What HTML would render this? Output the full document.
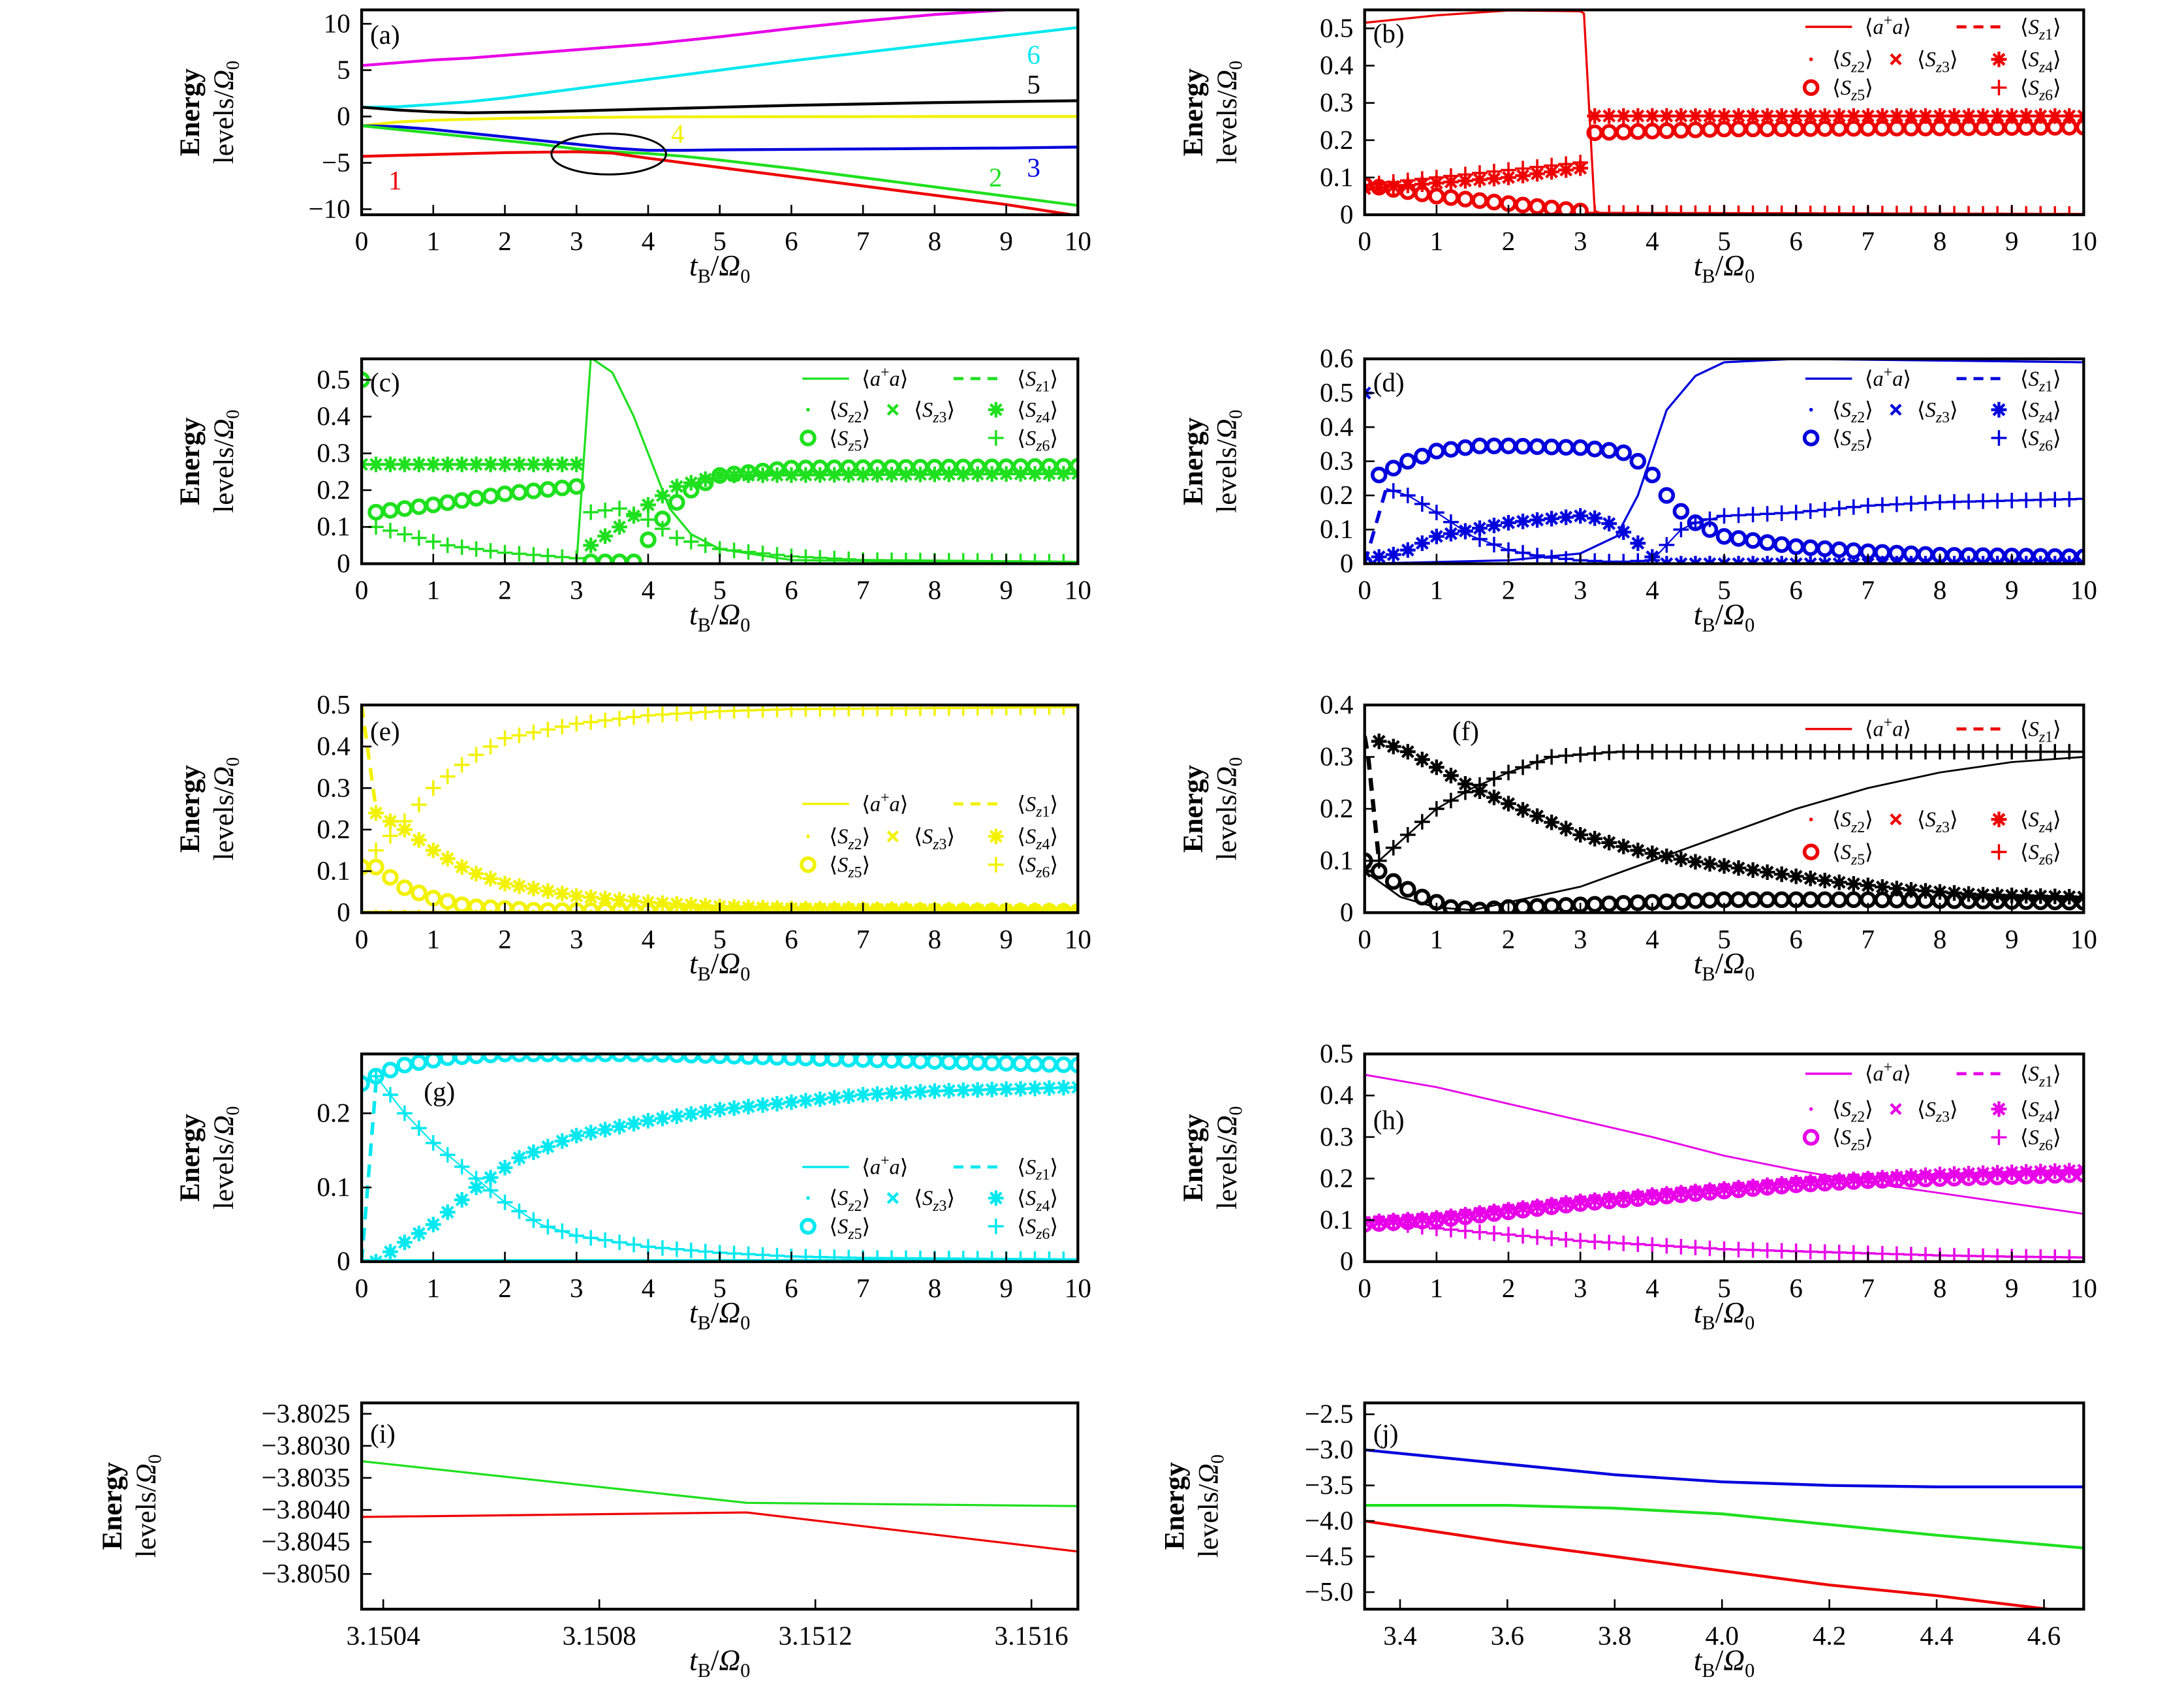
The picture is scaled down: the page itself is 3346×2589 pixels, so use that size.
<!DOCTYPE html>
<html><head><meta charset="utf-8">
<style>
html,body{margin:0;padding:0;background:#fff;}
svg{display:block;}
text{font-family:"Liberation Serif",serif;}
</style></head>
<body>
<svg id="fig" width="3346" height="2589" viewBox="0 0 1546 1196.2" preserveAspectRatio="none" xmlns="http://www.w3.org/2000/svg"></svg>
<script>
// ---------- Data ----------
const tTicks = [0,1,2,3,4,5,6,7,8,9,10];
// Panel a: energy levels
const aT = [0,0.5,1,1.5,2,2.5,3,3.5,4,4.5,5,6,7,8,9,10];
const aMag = [5.5,5.8,6.1,6.3,6.6,6.9,7.2,7.5,7.8,8.2,8.6,9.5,10.3,11.0,11.5,12.0];
const aCyan = [1,1.05,1.3,1.6,2.0,2.5,3.0,3.5,4.0,4.5,5.0,6.0,6.9,7.8,8.7,9.6];
const aBlack = [1,0.7,0.5,0.4,0.45,0.5,0.6,0.7,0.8,0.9,1.0,1.2,1.35,1.5,1.6,1.7];
const aYellow = [-1,-0.6,-0.4,-0.3,-0.2,-0.15,-0.1,-0.08,-0.05,-0.04,-0.03,-0.02,-0.01,0,0,0];
const aBlue = [-1,-1.1,-1.4,-1.8,-2.2,-2.6,-3.0,-3.4,-3.65,-3.65,-3.6,-3.55,-3.5,-3.45,-3.4,-3.3];
const aGreen = [-1,-1.4,-1.8,-2.2,-2.6,-3.0,-3.5,-3.8,-4.0,-4.3,-4.7,-5.6,-6.6,-7.6,-8.6,-9.6];
const aRed = [-4.3,-4.2,-4.1,-4.0,-3.9,-3.85,-3.8,-3.95,-4.5,-5.0,-5.5,-6.5,-7.5,-8.5,-9.5,-10.7];
// Panel b (red)
const bT = [0,1,2,3,3.05,3.2,3.3,4,6,8,10];
const bAA = [0.515,0.535,0.548,0.546,0.54,0.01,0.003,0,0,0,0];
const bS4T = [0,1,2,3,3.1,3.2,5,10];
const bS4 = [0.07,0.085,0.1,0.125,0.13,0.265,0.265,0.265];
const bS5T = [0,1,2,3,3.1,3.2,5,10];
const bS5 = [0.08,0.05,0.03,0.01,0.01,0.22,0.23,0.235];
const bS6T = [0,1,2,3,3.1,3.2,10];
const bS6 = [0.08,0.1,0.12,0.14,0.145,0.005,0.002];
// Panel c (green)
const cAAT = [0,3,3.2,3.5,3.8,4,4.3,4.6,5,6,10];
const cAA = [0,0,0.56,0.52,0.4,0.3,0.15,0.08,0.04,0.01,0];
const cS4T = [0,3,3.1,3.2,3.6,4,4.4,5,10];
const cS4 = [0.27,0.27,0.27,0.05,0.1,0.16,0.21,0.24,0.245];
const cS5T = [0,0.2,1,2,3,3.1,3.2,3.8,4,4.3,4.6,5,6,10];
const cS5 = [0.5,0.14,0.16,0.19,0.21,0.21,0.005,0.005,0.065,0.15,0.2,0.24,0.26,0.265];
const cS6T = [0,0.2,0.6,1.2,2,3,3.1,3.2,3.6,4,4.4,5,6,7,10];
const cS6 = [0,0.1,0.08,0.05,0.03,0.015,0.015,0.14,0.15,0.12,0.07,0.04,0.02,0.01,0.005];
// Panel d (blue)
const dAAT = [0,2,3,3.5,3.8,4.2,4.6,5,6,10];
const dAA = [0,0.01,0.03,0.08,0.2,0.45,0.55,0.59,0.6,0.59];
const dS1T = [0,0.3];
const dS1 = [0,0.22];
const dS6T = [0.3,0.6,1,1.5,2,2.5,3,3.5,4,4.4,4.6,5,6,7,8,9,10];
const dS6 = [0.22,0.2,0.15,0.08,0.04,0.02,0.01,0.005,0.01,0.1,0.12,0.14,0.15,0.17,0.18,0.185,0.19];
const dS4T = [0,0.1,0.3,0.6,1,1.5,2,2.5,3,3.3,3.7,4,4.2,10];
const dS4 = [0.5,0.02,0.02,0.04,0.08,0.1,0.12,0.13,0.14,0.13,0.08,0.02,0,0];
const dS5T = [0,0.1,0.3,0.6,1,1.6,2,3,3.5,3.7,4,4.3,4.6,5,6,7,8,10];
const dS5 = [0,0.25,0.27,0.3,0.33,0.345,0.345,0.34,0.33,0.32,0.26,0.17,0.12,0.08,0.05,0.035,0.025,0.02];
// Panel e (yellow)
const eS1T = [0,0.2];
const eS1 = [0.5,0.25];
const eS6T = [0.2,0.6,1,1.5,2,3,4,5,6,10];
const eS6 = [0.15,0.22,0.3,0.37,0.42,0.455,0.475,0.485,0.49,0.495];
const eS4T = [0.2,0.6,1,1.5,2,3,4,5,6,10];
const eS4 = [0.24,0.2,0.15,0.1,0.07,0.04,0.025,0.015,0.01,0.005];
const eS5T = [0,0.2,0.6,1,1.5,2.5,10];
const eS5 = [0.11,0.11,0.06,0.035,0.015,0.005,0.003];
// Panel f (black)
const fAAT = [0,0.5,1,1.5,2,3,4,5,6,7,8,9,10];
const fAA = [0.08,0.03,0.01,0.005,0.02,0.05,0.1,0.15,0.2,0.24,0.27,0.29,0.3];
const fS1T = [0,0.05,0.2];
const fS1 = [0.34,0.3,0.1];
const fS6T = [0.2,0.6,1,1.5,2,2.6,3.5,10];
const fS6 = [0.1,0.15,0.2,0.24,0.27,0.3,0.31,0.31];
const fS4T = [0,0.2,0.6,1,1.5,2,2.5,3,3.8,4.5,5.5,6.5,7.5,8.5,10];
const fS4 = [0.08,0.33,0.31,0.28,0.24,0.21,0.18,0.15,0.12,0.1,0.08,0.06,0.045,0.035,0.03];
const fS5T = [0,0.4,0.8,1.2,1.6,2,3,4,5,7,10];
const fS5 = [0.1,0.06,0.03,0.01,0.005,0.01,0.015,0.02,0.025,0.025,0.02];
// Panel g (cyan)
const gS5T = [0,0.3,0.6,1.2,2,4,6,8,10];
const gS5 = [0.24,0.255,0.265,0.275,0.28,0.28,0.275,0.27,0.265];
const gS1T = [0,0.2];
const gS1 = [0,0.24];
const gS6T = [0.2,0.6,1,1.5,2,2.5,3,4,5,6,7,10];
const gS6 = [0.25,0.2,0.16,0.12,0.08,0.05,0.035,0.02,0.012,0.007,0.005,0.003];
const gS4T = [0.2,0.5,1,1.6,2.2,3,4,5,6,7,8,10];
const gS4 = [0,0.02,0.05,0.1,0.14,0.17,0.19,0.205,0.215,0.225,0.23,0.235];
// Panel h (magenta)
const hT = [0,1,2,3,4,5,6,7,8,9,10];
const hAA = [0.45,0.42,0.38,0.34,0.3,0.255,0.22,0.19,0.165,0.14,0.115];
const hS5 = [0.09,0.1,0.12,0.14,0.155,0.17,0.185,0.195,0.2,0.205,0.21];
const hS4 = [0.095,0.105,0.125,0.145,0.16,0.175,0.19,0.2,0.21,0.215,0.22];
const hS6 = [0.1,0.08,0.065,0.05,0.04,0.03,0.025,0.02,0.015,0.012,0.01];
// Panel i
const iT = [3.15036,3.151073,3.151686];
const iGreen = [-3.80324,-3.80389,-3.80394];
const iRed = [-3.80411,-3.80404,-3.80465];
const iXTicks = [3.1504,3.1508,3.1512,3.1516];
const iXLabels = ["3.1504","3.1508","3.1512","3.1516"];
const iYTicks = [-3.8025,-3.8030,-3.8035,-3.8040,-3.8045,-3.8050];
const iYLabels = ["−3.8025","−3.8030","−3.8035","−3.8040","−3.8045","−3.8050"];
// Panel j
const jT = [3.334,3.6,3.8,4.0,4.2,4.4,4.674];
const jBlue = [-3.0,-3.2,-3.35,-3.45,-3.5,-3.52,-3.52];
const jGreen = [-3.78,-3.78,-3.82,-3.9,-4.05,-4.2,-4.38];
const jRed = [-4.0,-4.3,-4.5,-4.7,-4.9,-5.05,-5.3];
const jXTicks = [3.4,3.6,3.8,4.0,4.2,4.4,4.6];
const jXLabels = ["3.4","3.6","3.8","4.0","4.2","4.4","4.6"];
const jYTicks = [-2.5,-3.0,-3.5,-4.0,-4.5,-5.0];
const jYLabels = ["−2.5","−3.0","−3.5","−4.0","−4.5","−5.0"];

// ---------- Drawing ----------
const NS="http://www.w3.org/2000/svg";
const svg=document.getElementById('fig');
function el(tag,attrs,parent){const e=document.createElementNS(NS,tag);for(const k in attrs)e.setAttribute(k,attrs[k]);(parent||svg).appendChild(e);return e;}
function interp(xs,ys,x){if(x<xs[0]||x>xs[xs.length-1])return null;for(let i=0;i<xs.length-1;i++){if(x>=xs[i]&&x<=xs[i+1]){const f=(xs[i+1]===xs[i])?0:(x-xs[i])/(xs[i+1]-xs[i]);return ys[i]+f*(ys[i+1]-ys[i]);}}return ys[ys.length-1];}

function makePanel(name,box,xd,yd){
  const g=el('g',{});
  
  
  const p={g,box,sx:v=>box[0]+(v-xd[0])/(xd[1]-xd[0])*(box[2]-box[0]),sy:v=>box[3]-(v-yd[0])/(yd[1]-yd[0])*(box[3]-box[1])};
  const cid='clip-'+name;
  const cp=el('clipPath',{id:cid},g);el('rect',{x:box[0],y:box[1],width:box[2]-box[0],height:box[3]-box[1]},cp);
  p.plot=el('g',{'clip-path':'url(#'+cid+')'},g);
  return p;
}
function finishPanel(p,xt,xl,yt,yl,label,lx,ly,ylabX){
  const [x0,y0,x1,y1]=p.box;
  const ax=el('g',{},p.g);
  
  
  xt.forEach((v,i)=>{const x=p.sx(v);
    el('line',{x1:x,x2:x,y1:y1,y2:y1-7,stroke:'#000','stroke-width':1.2},ax);
    const t=el('text',{x:x,y:y1+25,'font-size':19,'text-anchor':'middle'},ax);t.textContent=xl[i];
    
    });
  yt.forEach((v,i)=>{const y=p.sy(v);
    el('line',{x1:x0,x2:x0+7,y1:y,y2:y,stroke:'#000','stroke-width':1.2},ax);
    const t=el('text',{x:x0-8,y:y+6,'font-size':19,'text-anchor':'end'},ax);t.textContent=yl[i];
    
    });
  el('rect',{x:x0,y:y0,width:x1-x0,height:y1-y0,fill:'none',stroke:'#000','stroke-width':2},ax);
  const pl=el('text',{x:lx,y:ly,'font-size':19},p.g);pl.textContent=label;
  
  
  const xlab=el('text',{x:(x0+x1)/2,y:y1+43,'font-size':21,'text-anchor':'middle'},p.g);
  
  
  xlab.innerHTML='<tspan font-style="italic">t</tspan><tspan font-size="14" dy="5">B</tspan><tspan dy="-5">/</tspan><tspan font-style="italic">Ω</tspan><tspan font-size="14" dy="5">0</tspan>';
  const cy=(y0+y1)/2;
  const yl1=el('text',{x:ylabX-12,y:cy,'font-size':20,'font-weight':'bold','text-anchor':'middle',transform:`rotate(-90 ${ylabX-12} ${cy})`},p.g);
  yl1.textContent='Energy';
  
  
  const yl2=el('text',{x:ylabX+12,y:cy,'font-size':20,'text-anchor':'middle',transform:`rotate(-90 ${ylabX+12} ${cy})`},p.g);
  yl2.innerHTML='levels/<tspan font-style="italic">Ω</tspan><tspan font-size="13" dy="4">0</tspan>';
  
  
}
function line(p,xs,ys,color,dash,w,name){
  const d=xs.map((x,i)=>(i?'L':'M')+p.sx(x).toFixed(2)+','+p.sy(ys[i]).toFixed(2)).join('');
  const e=el('path',{d,fill:'none',stroke:color,'stroke-width':w||1.5,'stroke-dasharray':dash?'9,6':'none','stroke-linejoin':'round'},p.plot);
  
  
}
function marker(parent,type,x,y,color){
  const s=5.5;
  if(type==='circle'){el('circle',{cx:x,cy:y,r:4.6,fill:'none',stroke:color,'stroke-width':2.6},parent);}
  else if(type==='plus'){el('path',{d:`M${x-s},${y}H${x+s}M${x},${y-s}V${y+s}`,stroke:color,'stroke-width':1.6},parent);}
  else if(type==='x'){el('path',{d:`M${x-3.5},${y-3.5}L${x+3.5},${y+3.5}M${x-3.5},${y+3.5}L${x+3.5},${y-3.5}`,stroke:color,'stroke-width':2},parent);}
  else if(type==='star'){let d='';for(let k=0;k<4;k++){const a=k*Math.PI/4;const dx=s*Math.cos(a),dy=s*Math.sin(a);d+=`M${x-dx},${y-dy}L${x+dx},${y+dy}`;}el('path',{d,stroke:color,'stroke-width':2},parent);}
  else if(type==='dot'){el('circle',{cx:x,cy:y,r:1.3,fill:color},parent);}
}
function markers(p,xs,ys,color,type,name){
  const g=el('g',{},p.plot);
  
  
  for(let i=0;i<=50;i++){const t=i*0.2;const v=interp(xs,ys,t);if(v===null)continue;marker(g,type,p.sx(t),p.sy(v),color);}
}
function legend(x,y,color,full,rows){
  const g=el('g',{});
  
  
  const r=rows||[y,y+23,y+43];
  const S=(n)=>`⟨<tspan font-style="italic">S</tspan><tspan font-size="11" dy="4"><tspan font-style="italic">z</tspan>${n}</tspan><tspan dy="-4">⟩</tspan>`;
  function txt(tx,ty,html){const t=el('text',{x:tx,y:ty+5,'font-size':15},g);t.innerHTML=html;
    
    }
  el('line',{x1:x,x2:x+33,y1:r[0],y2:r[0],stroke:color,'stroke-width':1.6},g);
  txt(x+42,r[0],'⟨<tspan font-style="italic">a</tspan><tspan font-size="11" dy="-6">+</tspan><tspan font-style="italic" dy="6">a</tspan>⟩');
  el('line',{x1:x+107,x2:x+140,y1:r[0],y2:r[0],stroke:color,'stroke-width':2.2,'stroke-dasharray':'7,5'},g);
  txt(x+152,r[0],S(1));
  marker(g,'dot',x+4,r[1],color);txt(x+19,r[1],S(2));
  marker(g,'x',x+64,r[1],color);txt(x+79,r[1],S(3));
  marker(g,'star',x+137,r[1],color);txt(x+152,r[1],S(4));
  marker(g,'circle',x+4,r[2],color);txt(x+19,r[2],S(5));
  marker(g,'plus',x+137,r[2],color);txt(x+152,r[2],S(6));
}
const L=[256,763], R=[966,1475];
const C={red:'#ee0000',green:'#1ee01e',blue:'#0000dd',yellow:'#f2f200',cyan:'#00e8f0',mag:'#e800e8',black:'#000'};

// Panel a
{const p=makePanel('panel-a',[L[0],7,L[1],152],[0,10],[-10.6,11.5]);
 line(p,aT,aMag,C.mag,false,2,'level-6-magenta');line(p,aT,aCyan,C.cyan,false,2,'level-cyan');
 line(p,aT,aBlack,'#000',false,2,'level-5-black');line(p,aT,aYellow,C.yellow,false,2,'level-4-yellow');
 line(p,aT,aBlue,C.blue,false,2,'level-3-blue');line(p,aT,aGreen,C.green,false,2,'level-2-green');
 line(p,aT,aRed,C.red,false,2,'level-1-red');
 const e=el('ellipse',{cx:p.sx(3.45),cy:p.sy(-4.05),rx:p.sx(4.25)-p.sx(3.45),ry:p.sy(-6.25)-p.sy(-4.05),fill:'none',stroke:'#000','stroke-width':1.4},p.g);
 
 
 [['1',275,134,C.red],['2',700,132,C.green],['3',727,125,C.blue],['4',475,101,C.yellow],['5',727,66,'#000'],['6',727,45,C.cyan]].forEach(a=>{const t=el('text',{x:a[1],y:a[2],'font-size':19,fill:a[3]},p.g);t.textContent=a[0];
   
   });
 finishPanel(p,tTicks,tTicks.map(String),[10,5,0,-5,-10],['10','5','0','−5','−10'],'(a)',262,31,153);}
// Panel b
{const p=makePanel('panel-b',[R[0],7,R[1],152],[0,10],[0,0.5496]);
 markers(p,bS5T,bS5,C.red,'circle','sz5-circles');markers(p,bS4T,bS4,C.red,'star','sz4-stars');
 markers(p,bS6T,bS6,C.red,'plus','sz6-plus');line(p,bT,bAA,C.red,false,1.5,'aa-line');
 finishPanel(p,tTicks,tTicks.map(String),[0,0.1,0.2,0.3,0.4,0.5],['0','0.1','0.2','0.3','0.4','0.5'],'(b)',972,30,863);
 legend(1278,19,C.red);}
// Panel c
{const p=makePanel('panel-c',[L[0],254,L[1],399],[0,10],[0,0.557]);
 markers(p,cS5T,cS5,C.green,'circle','sz5-circles');markers(p,cS4T,cS4,C.green,'star','sz4-stars');
 markers(p,cS6T,cS6,C.green,'plus','sz6-plus');line(p,cAAT,cAA,C.green,false,1.5,'aa-line');
 finishPanel(p,tTicks,tTicks.map(String),[0,0.1,0.2,0.3,0.4,0.5],['0','0.1','0.2','0.3','0.4','0.5'],'(c)',262,277,153);
 legend(568,268,C.green,true,[268,290,310]);}
// Panel d
{const p=makePanel('panel-d',[R[0],254,R[1],399],[0,10],[0,0.6]);
 markers(p,dS5T,dS5,C.blue,'circle','sz5-circles');markers(p,dS4T,dS4,C.blue,'star','sz4-stars');
 markers(p,dS6T,dS6,C.blue,'plus','sz6-plus');line(p,dS6T,dS6,C.blue,false,1,'sz6-line');
 line(p,dS1T,dS1,C.blue,true,2.5,'sz1-dash');line(p,dAAT,dAA,C.blue,false,1.5,'aa-line');
 finishPanel(p,tTicks,tTicks.map(String),[0,0.1,0.2,0.3,0.4,0.5,0.6],['0','0.1','0.2','0.3','0.4','0.5','0.6'],'(d)',972,277,863);
 legend(1278,268,C.blue,true,[268,290,310]);}
// Panel e
{const p=makePanel('panel-e',[L[0],499,L[1],646],[0,10],[0,0.5]);
 line(p,[0,10],[0.002,0.002],C.yellow,false,1.5,'aa-line');
 markers(p,[0,10],[0.003,0.003],C.yellow,'dot','sz2-dots');
 markers(p,eS5T,eS5,C.yellow,'circle','sz5-circles');markers(p,eS4T,eS4,C.yellow,'star','sz4-stars');
 markers(p,eS6T,eS6,C.yellow,'plus','sz6-plus');line(p,eS1T,eS1,C.yellow,true,2.5,'sz1-dash');
 finishPanel(p,tTicks,tTicks.map(String),[0,0.1,0.2,0.3,0.4,0.5],['0','0.1','0.2','0.3','0.4','0.5'],'(e)',262,524,153);
 legend(568,569,C.yellow,true,[569,592,612]);}
// Panel f
{const p=makePanel('panel-f',[R[0],499,R[1],646],[0,10],[0,0.4]);
 markers(p,fS5T,fS5,'#000','circle','sz5-circles');markers(p,fS4T,fS4,'#000','star','sz4-stars');
 markers(p,fS6T,fS6,'#000','plus','sz6-plus');line(p,fS6T,fS6,'#000',false,1.2,'sz6-line');
 line(p,fS1T,fS1,'#000',true,3,'sz1-dash');line(p,fAAT,fAA,'#000',false,1.3,'aa-line');
 finishPanel(p,tTicks,tTicks.map(String),[0,0.1,0.2,0.3,0.4],['0','0.1','0.2','0.3','0.4'],'(f)',1028,524,863);
 legend(1278,516,C.red,true,[516,580,603]);}
// Panel g
{const p=makePanel('panel-g',[L[0],746,L[1],893],[0,10],[0,0.28]);
 markers(p,gS5T,gS5,C.cyan,'circle','sz5-circles');markers(p,gS4T,gS4,C.cyan,'star','sz4-stars');
 markers(p,gS6T,gS6,C.cyan,'plus','sz6-plus');line(p,gS6T,gS6,C.cyan,false,1,'sz6-line');
 line(p,gS1T,gS1,C.cyan,true,2.5,'sz1-dash');line(p,[0,10],[0.002,0.002],C.cyan,false,1.5,'aa-line');
 finishPanel(p,tTicks,tTicks.map(String),[0,0.1,0.2],['0','0.1','0.2'],'(g)',300,779,153);
 legend(568,826,C.cyan,true,[826,848,868]);}
// Panel h
{const p=makePanel('panel-h',[R[0],746,R[1],893],[0,10],[0,0.5]);
 markers(p,hT,hS5,C.mag,'circle','sz5-circles');markers(p,hT,hS4,C.mag,'star','sz4-stars');
 markers(p,hT,hS6,C.mag,'plus','sz6-plus');line(p,hT,hAA,C.mag,false,1.3,'aa-line');
 finishPanel(p,tTicks,tTicks.map(String),[0,0.1,0.2,0.3,0.4,0.5],['0','0.1','0.2','0.3','0.4','0.5'],'(h)',972,799,863);
 legend(1278,760,C.mag,true,[760,785,805]);}
// Panel i
{const p=makePanel('panel-i',[L[0],993,L[1],1139],[3.15036,3.151686],[-3.80555,-3.80233]);
 line(p,iT,iGreen,C.green,false,1.5,'green-level');line(p,iT,iRed,C.red,false,1.5,'red-level');
 finishPanel(p,iXTicks,iXLabels,iYTicks,iYLabels,'(i)',262,1021,98);}
// Panel j
{const p=makePanel('panel-j',[R[0],993,R[1],1139],[3.334,4.674],[-5.24,-2.34]);
 line(p,jT,jBlue,C.blue,false,2,'blue-level');line(p,jT,jGreen,C.green,false,2,'green-level');line(p,jT,jRed,C.red,false,2,'red-level');
 finishPanel(p,jXTicks,jXLabels,jYTicks,jYLabels,'(j)',972,1021,850);}
</script>
</body></html>
